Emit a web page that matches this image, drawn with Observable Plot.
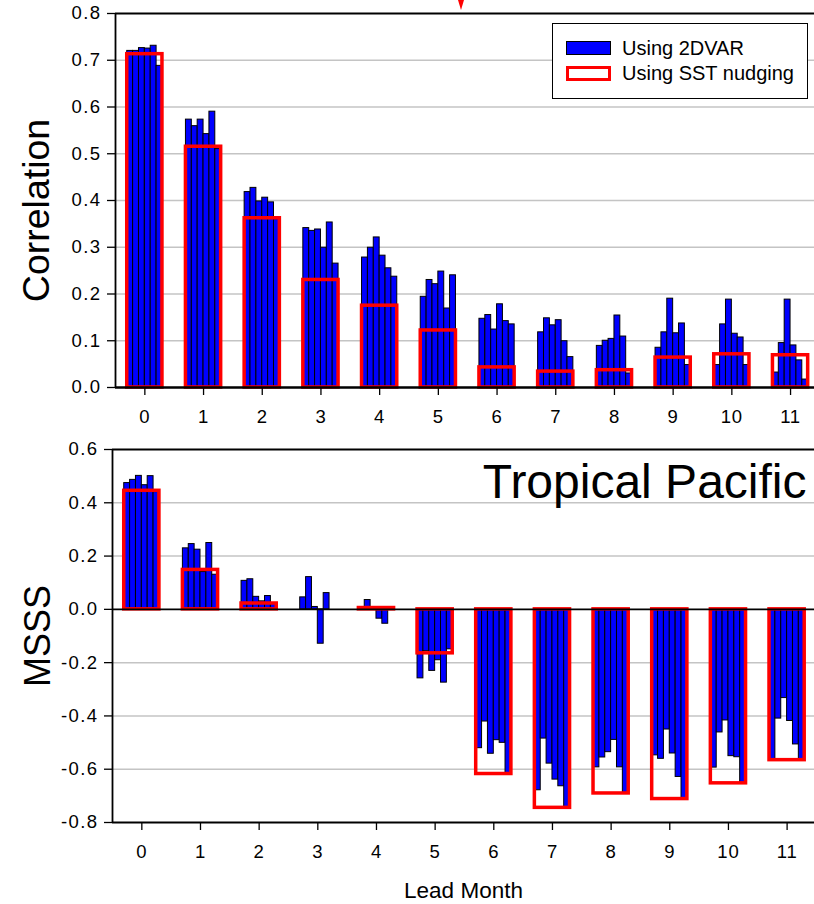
<!DOCTYPE html>
<html>
<head>
<meta charset="utf-8">
<script src="https://cdn.jsdelivr.net/npm/d3@7"></script>
<script src="https://cdn.jsdelivr.net/npm/@observablehq/plot@0.6"></script>
<style>
  body { margin: 0; background: #fff; }
  #wrap { position: relative; width: 814px; height: 904px; overflow: hidden; font-family: "Liberation Sans", Arial, sans-serif; }
  #top { position: absolute; left: 0; top: 0; width: 814px; height: 430px; }
  #bottom { position: absolute; left: 0; top: 430px; width: 814px; height: 474px; }
  #top svg, #bottom svg { display: block; max-width: none; }
  #wrap svg [aria-label="y-axis tick label"] text { letter-spacing: 1.4px; }
  #wrap svg [aria-label="x-axis tick label"] text { letter-spacing: 0.8px; }
  .legend { position: absolute; left: 552px; top: 23px; width: 254px; height: 74px; border: 1px solid #000; background: #fff; }
  .sw { position: absolute; box-sizing: border-box; }
  .sw.blue { left: 566px; top: 41px; width: 45px; height: 14px; background: #0000ff; border: 1px solid #000; }
  .sw.red { left: 566px; top: 66px; width: 45px; height: 15px; border: 3px solid #ff0000; background: #fff; }
  .lt { position: absolute; left: 622px; font-size: 20px; line-height: 20px; color: #000; white-space: nowrap; }
  .tri { position: absolute; left: 458px; top: 0; width: 0; height: 0; border-left: 3px solid transparent; border-right: 3px solid transparent; border-top: 10px solid #ff0000; }
</style>
</head>
<body>
<div id="wrap">
  <div id="top"></div>
  <div id="bottom"></div>
  <div class="tri"></div>
  <div class="legend"></div>
  <div class="sw blue"></div>
  <div class="sw red"></div>
  <div class="lt" style="top:38px">Using 2DVAR</div>
  <div class="lt" style="top:63px">Using SST nudging</div>
</div>
<script>
// ---- data ----
const leads = [0, 1, 2, 3, 4, 5, 6, 7, 8, 9, 10, 11];

// Correlation, 2DVAR ensemble members (6 per lead month)
const corr2dvar = [
  [0.720, 0.720, 0.726, 0.725, 0.731, 0.688],
  [0.573, 0.559, 0.573, 0.542, 0.590, 0.510],
  [0.418, 0.427, 0.398, 0.406, 0.396, 0.360],
  [0.341, 0.335, 0.338, 0.299, 0.353, 0.265],
  [0.278, 0.299, 0.321, 0.282, 0.255, 0.237],
  [0.194, 0.230, 0.221, 0.248, 0.169, 0.240],
  [0.147, 0.155, 0.124, 0.178, 0.142, 0.135],
  [0.118, 0.148, 0.133, 0.144, 0.099, 0.065],
  [0.089, 0.100, 0.104, 0.154, 0.109, 0.030],
  [0.085, 0.118, 0.190, 0.116, 0.137, 0.048],
  [0.048, 0.135, 0.188, 0.115, 0.107, 0.048],
  [0.032, 0.095, 0.188, 0.090, 0.058, 0.017]
];
// Correlation, SST nudging
const corrNudging = [0.713, 0.515, 0.362, 0.230, 0.175, 0.122, 0.043, 0.034, 0.037, 0.064, 0.071, 0.069];

// MSSS, 2DVAR ensemble members
const msss2dvar = [
  [0.474, 0.486, 0.501, 0.466, 0.500, 0.440],
  [0.229, 0.245, 0.224, 0.140, 0.249, 0.130],
  [0.107, 0.113, 0.047, 0.030, 0.050, 0.020],
  [0.045, 0.121, 0.009, -0.129, 0.061, 0.000],
  [0.004, 0.035, 0.005, -0.035, -0.054, 0.003],
  [-0.259, -0.157, -0.231, -0.191, -0.275, -0.150],
  [-0.521, -0.421, -0.542, -0.491, -0.501, -0.619],
  [-0.679, -0.485, -0.579, -0.639, -0.664, -0.746],
  [-0.593, -0.556, -0.536, -0.490, -0.593, -0.689],
  [-0.548, -0.561, -0.451, -0.541, -0.629, -0.715],
  [-0.594, -0.462, -0.417, -0.551, -0.555, -0.654],
  [-0.562, -0.410, -0.333, -0.419, -0.507, -0.567]
];
// MSSS, SST nudging (null = not drawn)
const msssNudging = [0.445, 0.148, 0.022, null, 0.005, -0.165, -0.618, -0.745, -0.691, -0.712, -0.653, -0.566];

const corrTicks = [0, 0.1, 0.2, 0.3, 0.4, 0.5, 0.6, 0.7, 0.8];
const msssTicks = [-0.8, -0.6, -0.4, -0.2, 0, 0.2, 0.4, 0.6];

const seriesNames = ["Using 2DVAR", "Using SST nudging"];
const panelTitle = "Tropical Pacific";
const xTitle = "Lead Month";
const yTitles = ["Correlation", "MSSS"];

// ---- tables ----
const halfGroup = 0.3, memberWidth = 0.1;
function memberTable(arr) {
  return leads.flatMap((l, i) => arr[i].map((v, k) => ({lead: l, member: k, value: v})));
}
function nudgeTable(arr) {
  return leads.map((l, i) => ({lead: l, value: arr[i]})).filter(d => d.value != null);
}

const FONT = '"Liberation Sans", Arial, sans-serif';
const TICK_FONT = 18.5;

function panel({members, nudging, ticks, domainY, height, marginTop, marginBottom, marginLeft, xMax, yTitle, yTitleDx, yTitleDy, yTitleSize, extra}) {
  const grid = ticks.filter(t => t !== domainY[0] && t !== domainY[1] && t !== 0);
  const black = [domainY[0], domainY[1], 0].filter(t => t >= domainY[0] && t <= domainY[1]);
  return Plot.plot({
    width: 814,
    height,
    marginTop, marginBottom, marginLeft, marginRight: 0,
    style: {fontFamily: FONT, fontSize: TICK_FONT + "px", background: "transparent", overflow: "visible", color: "#000", maxWidth: "none"},
    x: {domain: [-0.5, xMax]},
    y: {domain: domainY},
    marks: [
      Plot.ruleY(grid, {stroke: "#c4c4c4", strokeWidth: 1.5}),
      Plot.rect(memberTable(members), {
        x1: d => d.lead - halfGroup + d.member * memberWidth,
        x2: d => d.lead - halfGroup + (d.member + 1) * memberWidth,
        y1: d => 0,
        y2: d => d.value,
        fill: "#0000ff", stroke: "#000", strokeWidth: 1
      }),
      Plot.rect(nudgeTable(nudging), {
        x1: d => d.lead - halfGroup,
        x2: d => d.lead + halfGroup,
        y1: d => 0,
        y2: d => d.value,
        fill: "none", stroke: "#ff0000", strokeWidth: 3.5
      }),
      Plot.ruleY(black, {stroke: "#000", strokeWidth: 1.8}),
      Plot.ruleX([-0.5], {stroke: "#000", strokeWidth: 1.8}),
      Plot.axisX({ticks: leads, tickSize: 8, tickPadding: 14, tickFormat: d => String(d), fontSize: TICK_FONT, label: null, stroke: "#000", strokeWidth: 1.3}),
      Plot.axisY({ticks, tickSize: 8, tickPadding: 6, tickFormat: d => d.toFixed(1), fontSize: TICK_FONT, label: null, stroke: "#000", strokeWidth: 1.3}),
      Plot.text([yTitle], {text: d => d, frameAnchor: "left", textAnchor: "middle", rotate: -90, dx: yTitleDx, dy: yTitleDy, fontSize: yTitleSize, fill: "#000"}),
      ...extra
    ]
  });
}

const topChart = panel({
  members: corr2dvar, nudging: corrNudging, ticks: corrTicks, domainY: [0, 0.8],
  height: 430, marginTop: 13, marginBottom: 43, marginLeft: 115, xMax: 11.408,
  yTitle: yTitles[0], yTitleDx: -79, yTitleDy: 10, yTitleSize: 37.5, extra: []
});
document.getElementById("top").appendChild(topChart);

const bottomChart = panel({
  members: msss2dvar, nudging: msssNudging, ticks: msssTicks, domainY: [-0.8, 0.6],
  height: 474, marginTop: 19, marginBottom: 82, marginLeft: 112, xMax: 11.467,
  yTitle: yTitles[1], yTitleDx: -74, yTitleDy: 0, yTitleSize: 36, 
  extra: [
    Plot.text([panelTitle], {text: d => d, frameAnchor: "top-right", lineAnchor: "bottom", dx: -8, dy: 48.5, fontSize: 48, fill: "#000"}),
    Plot.text([xTitle], {text: d => d, frameAnchor: "bottom", lineAnchor: "middle", dy: 68, fontSize: 22.5, fill: "#000"})
  ]
});
document.getElementById("bottom").appendChild(bottomChart);
</script>
</body>
</html>
